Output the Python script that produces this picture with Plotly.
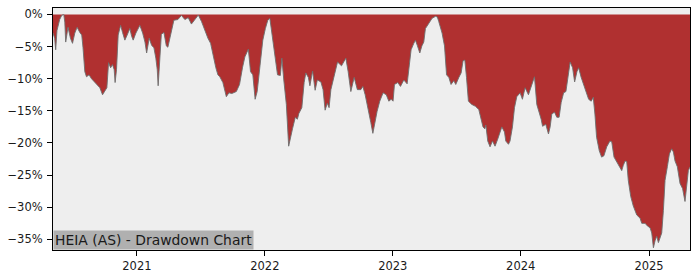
import pandas as pd
import plotly.graph_objects as go

# time as decimal years, drawdown in percent
t_years = [
    2020.346, 2020.359, 2020.367, 2020.377, 2020.398, 2020.414, 2020.430, 2020.438, 2020.445, 2020.463,
    2020.482, 2020.498, 2020.516, 2020.534, 2020.555, 2020.570, 2020.580, 2020.594, 2020.607, 2020.627,
    2020.646, 2020.672, 2020.690, 2020.711, 2020.732, 2020.750, 2020.766, 2020.779, 2020.795, 2020.810,
    2020.823, 2020.830, 2020.841, 2020.854, 2020.873, 2020.888, 2020.906, 2020.924, 2020.945, 2020.959,
    2020.971, 2020.992, 2021.010, 2021.023, 2021.045, 2021.063, 2021.076, 2021.096, 2021.115, 2021.133,
    2021.148, 2021.159, 2021.166, 2021.180, 2021.191, 2021.211, 2021.230, 2021.242, 2021.268, 2021.289,
    2021.320, 2021.348, 2021.375, 2021.401, 2021.426, 2021.453, 2021.480, 2021.505, 2021.531, 2021.555,
    2021.576, 2021.596, 2021.617, 2021.633, 2021.648, 2021.672, 2021.699, 2021.719, 2021.742, 2021.777,
    2021.802, 2021.826, 2021.844, 2021.871, 2021.888, 2021.906, 2021.924, 2021.940, 2021.961, 2021.984,
    2022.004, 2022.023, 2022.039, 2022.063, 2022.086, 2022.099, 2022.121, 2022.133, 2022.148, 2022.168,
    2022.186, 2022.199, 2022.216, 2022.238, 2022.254, 2022.266, 2022.289, 2022.307, 2022.320, 2022.340,
    2022.352, 2022.373, 2022.393, 2022.410, 2022.438, 2022.455, 2022.471, 2022.488, 2022.502, 2022.516,
    2022.541, 2022.568, 2022.599, 2022.633, 2022.651, 2022.672, 2022.698, 2022.723, 2022.750, 2022.766,
    2022.784, 2022.802, 2022.828, 2022.844, 2022.862, 2022.877, 2022.898, 2022.924, 2022.949, 2022.969,
    2022.987, 2023.002, 2023.013, 2023.039, 2023.060, 2023.086, 2023.112, 2023.125, 2023.143, 2023.164,
    2023.177, 2023.191, 2023.211, 2023.227, 2023.242, 2023.255, 2023.281, 2023.307, 2023.334, 2023.348,
    2023.359, 2023.385, 2023.404, 2023.420, 2023.438, 2023.455, 2023.477, 2023.492, 2023.516, 2023.534,
    2023.549, 2023.563, 2023.576, 2023.591, 2023.617, 2023.646, 2023.672, 2023.688, 2023.705, 2023.719,
    2023.727, 2023.742, 2023.760, 2023.779, 2023.799, 2023.820, 2023.838, 2023.852, 2023.873, 2023.883,
    2023.904, 2023.916, 2023.935, 2023.951, 2023.969, 2023.995, 2024.013, 2024.034, 2024.060, 2024.086,
    2024.107, 2024.125, 2024.143, 2024.159, 2024.170, 2024.195, 2024.216, 2024.229, 2024.242, 2024.263,
    2024.281, 2024.299, 2024.315, 2024.334, 2024.352, 2024.367, 2024.385, 2024.404, 2024.420, 2024.438,
    2024.451, 2024.471, 2024.490, 2024.508, 2024.529, 2024.549, 2024.565, 2024.578, 2024.591, 2024.612,
    2024.630, 2024.648, 2024.670, 2024.695, 2024.709, 2024.727, 2024.748, 2024.768, 2024.787, 2024.799,
    2024.813, 2024.826, 2024.838, 2024.857, 2024.877, 2024.904, 2024.930, 2024.943, 2024.969, 2024.987,
    2025.008, 2025.021, 2025.034, 2025.047, 2025.060, 2025.073, 2025.086, 2025.099, 2025.112, 2025.125,
    2025.143, 2025.159, 2025.177, 2025.190, 2025.203, 2025.221, 2025.242, 2025.262, 2025.281, 2025.295,
    2025.307, 2025.320,
]

drawdown_pct = [
    -2.9, -3.7, -5.5, -2.5, -0.8, -0.15, 0.0, -1.2, -4.3, -2.0,
    -3.7, -4.5, -2.9, -2.0, -2.8, -3.2, -5.2, -8.9, -9.7, -9.4,
    -10.0, -10.5, -10.9, -11.4, -12.5, -12.0, -11.4, -7.5, -8.3, -7.8,
    -8.6, -10.6, -8.6, -3.2, -1.7, -2.8, -4.0, -3.2, -2.2, -3.4,
    -4.0, -2.9, -2.2, -1.7, -2.9, -4.3, -6.0, -3.7, -4.8, -5.2,
    -6.8, -8.6, -11.1, -7.1, -3.1, -2.8, -4.9, -5.1, -2.8, -0.9,
    -0.8, -0.15, -0.8, -0.5, -1.5, -0.8, -0.1, -1.1, -2.5, -3.7,
    -4.5, -6.6, -8.3, -9.4, -9.7, -10.6, -12.8, -12.2, -12.3, -12.0,
    -10.9, -8.2, -6.6, -5.4, -8.9, -9.4, -13.2, -12.0, -8.0, -4.0,
    -2.2, -0.9, -0.6, -4.0, -7.1, -9.4, -9.5, -6.8, -10.2, -14.0,
    -20.5, -19.1, -17.8, -16.0, -16.3, -15.4, -14.5, -10.6, -9.1, -9.8,
    -11.1, -8.8, -11.8, -10.2, -10.5, -11.7, -14.9, -13.8, -14.5, -11.7,
    -9.4, -7.4, -8.0, -6.8, -8.9, -12.0, -9.8, -11.7, -11.7, -11.2,
    -12.5, -14.5, -16.8, -18.5, -16.6, -15.1, -13.5, -12.2, -12.5, -13.5,
    -13.2, -13.5, -10.9, -10.6, -11.2, -10.2, -10.8, -8.2, -5.5, -4.5,
    -4.0, -4.8, -6.0, -4.9, -4.3, -2.2, -1.4, -0.6, -0.3, -0.4,
    -1.1, -2.9, -4.9, -9.4, -9.8, -10.9, -10.3, -10.9, -9.8, -9.1,
    -7.2, -7.1, -9.8, -13.5, -14.0, -14.3, -14.8, -16.0, -17.5, -17.8,
    -17.2, -19.7, -20.6, -19.7, -20.5, -19.4, -18.2, -17.5, -18.3, -19.7,
    -20.2, -19.7, -17.5, -14.5, -12.8, -12.2, -13.2, -11.4, -12.5, -10.9,
    -9.7, -14.0, -15.1, -16.3, -17.4, -17.1, -18.6, -17.5, -15.5, -15.2,
    -16.0, -16.0, -13.7, -12.2, -12.0, -9.7, -7.4, -8.3, -10.5, -8.9,
    -8.3, -9.8, -10.9, -12.2, -13.2, -13.5, -12.9, -15.5, -19.1, -21.2,
    -22.2, -22.0, -20.6, -19.7, -19.8, -22.2, -22.9, -23.7, -24.3, -23.5,
    -22.8, -22.9, -25.8, -28.3, -29.8, -31.2, -31.7, -32.5, -32.5, -32.9,
    -33.2, -34.0, -36.3, -35.2, -34.5, -35.5, -34.8, -34.0, -30.5, -25.8,
    -23.7, -21.7, -20.9, -21.4, -22.8, -23.7, -26.3, -27.1, -29.1, -26.3,
    -24.3, -23.7,
]

y_ticks = [0, -5, -10, -15, -20, -25, -30, -35]
y_tick_labels = ["0%", "\u22125%", "\u221210%", "\u221215%", "\u221220%", "\u221225%", "\u221230%", "\u221235%"]
x_tick_years = [2021, 2022, 2023, 2024, 2025]
title_text = "HEIA (AS) - Drawdown Chart"


def to_date(y):
    yr = int(y // 1)
    frac = y - yr
    start = pd.Timestamp(year=yr, month=1, day=1)
    end = pd.Timestamp(year=yr + 1, month=1, day=1)
    return start + (end - start) * frac


dates = [to_date(t) for t in t_years]
x_ticks = [pd.Timestamp(year=y, month=1, day=1) for y in x_tick_years]

fig = go.Figure()
fig.add_trace(go.Scatter(
    x=dates, y=drawdown_pct, mode="lines", fill="tozeroy",
    fillcolor="#b03030", line=dict(color="rgba(110,110,110,0.9)", width=1),
    hoverinfo="skip", showlegend=False,
))

axis_common = dict(
    showline=True, linecolor="black", linewidth=1, mirror=True,
    ticks="outside", ticklen=5, tickwidth=1, tickcolor="black",
    showgrid=False, zeroline=False,
    tickfont=dict(family="DejaVu Sans", size=11.5, color="#1a1a1a"),
)

fig.update_xaxes(
    range=[dates[0], dates[-1]],
    tickvals=x_ticks, ticktext=[str(y) for y in x_tick_years],
    **axis_common,
)
fig.update_yaxes(
    range=[-36.65, 1.0],
    tickvals=y_ticks, ticktext=y_tick_labels,
    ticklabelstandoff=2,
    **axis_common,
)

fig.add_annotation(
    xref="paper", yref="paper", x=0, y=0, xanchor="left", yanchor="bottom",
    text=title_text, showarrow=False,
    font=dict(family="DejaVu Sans", size=13.9, color="#1a1a1a"),
    bgcolor="#b0b0b0", borderpad=1,
)

fig.update_layout(
    width=700, height=280,
    margin=dict(l=53, r=10, t=7, b=28),
    plot_bgcolor="#eeeeee", paper_bgcolor="white",
)

fig.write_html("out.html")
